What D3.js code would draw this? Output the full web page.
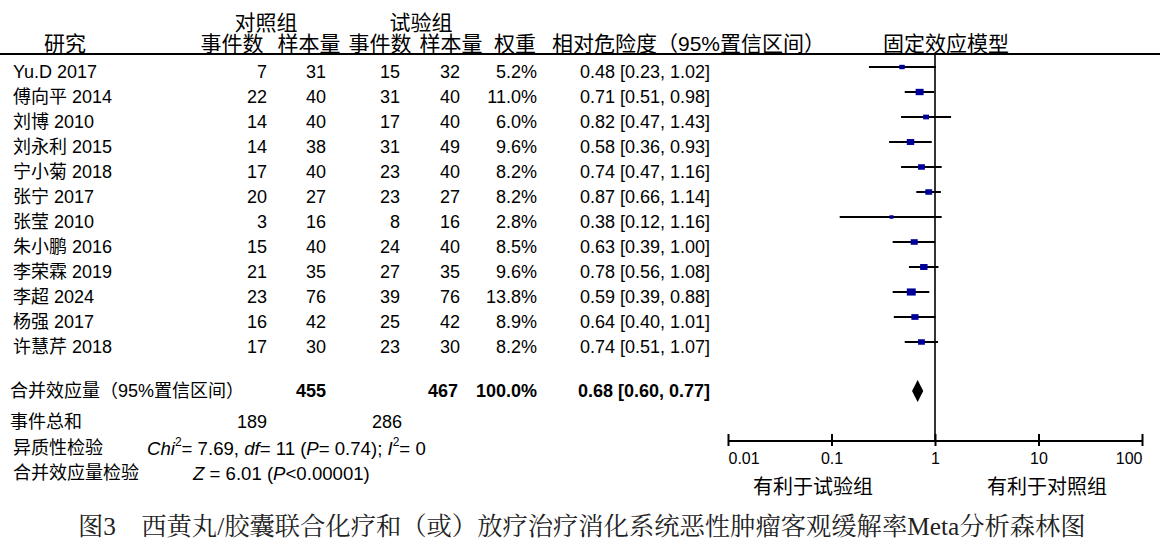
<!DOCTYPE html>
<html><head><meta charset="utf-8">
<script src="https://cdn.jsdelivr.net/npm/d3@7"></script>
<style>
html,body{margin:0;padding:0;background:#fff;}
svg{display:block;}
text{font-family:"Liberation Sans","Noto Sans CJK SC",sans-serif;fill:#000;}
</style></head>
<body>
<svg id="c" width="1162" height="548"></svg>
<script>
const studies = ["Yu.D 2017","傅向平 2014","刘博 2010","刘永利 2015","宁小菊 2018","张宁 2017","张莹 2010","朱小鹏 2016","李荣霖 2019","李超 2024","杨强 2017","许慧芹 2018"];
const ctrlEvents = [7,22,14,14,17,20,3,15,21,23,16,17];
const ctrlTotal  = [31,40,40,38,40,27,16,40,35,76,42,30];
const expEvents  = [15,31,17,31,23,23,8,24,27,39,25,23];
const expTotal   = [32,40,40,49,40,27,16,40,35,76,42,30];
const weights    = [5.2,11.0,6.0,9.6,8.2,8.2,2.8,8.5,9.6,13.8,8.9,8.2];
const rr         = [0.48,0.71,0.82,0.58,0.74,0.87,0.38,0.63,0.78,0.59,0.64,0.74];
const rrLo       = [0.23,0.51,0.47,0.36,0.47,0.66,0.12,0.39,0.56,0.39,0.40,0.51];
const rrHi       = [1.02,0.98,1.43,0.93,1.16,1.14,1.16,1.00,1.08,0.88,1.01,1.07];
const pooled     = {rr:0.68, lo:0.60, hi:0.77, ctrlTotal:455, expTotal:467, weight:"100.0%", ctrlEvents:189, expEvents:286};
const axisTicks  = [0.01,0.1,1,10,100];
const axisTickLabels = ["0.01","0.1","1","10","100"];

const svg = d3.select("#c");
const fmt2 = d3.format(".2f");
const x = d3.scaleLog().domain([0.01,100]).range([728,1142]);
const y = d3.scaleLinear().domain([0, studies.length-1]).range([72, 347]);
const markOff = -5;

// Headers
const hdr = svg.append("g").attr("font-size",21);
function ht(tx,ty,s,anchor){hdr.append("text").attr("x",tx).attr("y",ty).attr("text-anchor",anchor||"middle").attr("dominant-baseline","central").text(s);}
ht(266,22,"对照组"); ht(421,22,"试验组");
ht(65,43,"研究"); ht(232,43,"事件数"); ht(309,43,"样本量"); ht(380,43,"事件数"); ht(451,43,"样本量");
ht(515,43,"权重"); ht(552,43,"相对危险度（95%置信区间）","start"); ht(946,43,"固定效应模型");

svg.append("line").attr("x1",0).attr("x2",1160).attr("y1",54).attr("y2",54).attr("stroke","#000").attr("stroke-width",1.8);

// Rows
const rows = svg.append("g").attr("font-size",18);
studies.forEach((s,i)=>{
  const yy = y(i);
  const t=(tx,str,anchor)=>rows.append("text").attr("x",tx).attr("y",yy).attr("dominant-baseline","central").attr("text-anchor",anchor).text(str);
  t(13,s,"start");
  t(267,ctrlEvents[i],"end");
  t(326,ctrlTotal[i],"end");
  t(400,expEvents[i],"end");
  t(460,expTotal[i],"end");
  t(537,weights[i].toFixed(1)+"%","end");
  t(710,`${fmt2(rr[i])} [${fmt2(rrLo[i])}, ${fmt2(rrHi[i])}]`,"end");
});

// Reference line
svg.append("line").attr("x1",x(1)).attr("x2",x(1)).attr("y1",54).attr("y2",441).attr("stroke","#000").attr("stroke-width",1.6);

// CI whiskers and squares
const marks = svg.append("g");
studies.forEach((s,i)=>{
  const yy = y(i)+markOff;
  marks.append("line").attr("x1",x(rrLo[i])).attr("x2",x(rrHi[i])).attr("y1",yy).attr("y2",yy).attr("stroke","#000").attr("stroke-width",2);
  const w = 2.4*Math.sqrt(weights[i]);
  const h = Math.max(3.5, w*0.8);
  marks.append("rect").attr("x",x(rr[i])-w/2).attr("y",yy-h/2).attr("width",w).attr("height",h).attr("fill","#00009a");
});

// Summary row
const sy = 391;
const sum = svg.append("g").attr("font-size",18);
sum.append("text").attr("x",10).attr("y",sy).attr("dominant-baseline","central").text("合并效应量（95%置信区间）");
const bt=(tx,str)=>sum.append("text").attr("x",tx).attr("y",sy).attr("dominant-baseline","central").attr("text-anchor","end").attr("font-weight","bold").text(str);
bt(326,pooled.ctrlTotal); bt(458,pooled.expTotal); bt(537,pooled.weight);
bt(710,`${fmt2(pooled.rr)} [${fmt2(pooled.lo)}, ${fmt2(pooled.hi)}]`);
svg.append("path").attr("d",`M${x(pooled.lo)},${sy} L${x(pooled.rr)},${sy-11} L${x(pooled.hi)},${sy} L${x(pooled.rr)},${sy+11} Z`).attr("fill","#000");

// Totals / tests
const ft = svg.append("g").attr("font-size",18);
ft.append("text").attr("x",10).attr("y",422).attr("dominant-baseline","central").text("事件总和");
ft.append("text").attr("x",267).attr("y",422).attr("dominant-baseline","central").attr("text-anchor","end").text(pooled.ctrlEvents);
ft.append("text").attr("x",402).attr("y",422).attr("dominant-baseline","central").attr("text-anchor","end").text(pooled.expEvents);
ft.append("text").attr("x",13).attr("y",448).attr("dominant-baseline","central").text("异质性检验");
const het = ft.append("text").attr("x",147).attr("y",448).attr("dominant-baseline","central").attr("font-size",18.6);
het.append("tspan").attr("font-style","italic").text("Chi");
het.append("tspan").attr("font-size",12).attr("dy",-6).text("2");
het.append("tspan").attr("dy",6).text("= 7.69, ");
het.append("tspan").attr("font-style","italic").text("df");
het.append("tspan").text("= 11 (");
het.append("tspan").attr("font-style","italic").text("P");
het.append("tspan").text("= 0.74); ");
het.append("tspan").attr("font-style","italic").text("I");
het.append("tspan").attr("font-size",12).attr("dy",-6).text("2");
het.append("tspan").attr("dy",6).text("= 0");
ft.append("text").attr("x",13).attr("y",473).attr("dominant-baseline","central").text("合并效应量检验");
const zt = ft.append("text").attr("x",193).attr("y",473).attr("dominant-baseline","central").attr("font-size",18.6);
zt.append("tspan").attr("font-style","italic").text("Z");
zt.append("tspan").text(" = 6.01 (");
zt.append("tspan").attr("font-style","italic").text("P");
zt.append("tspan").text("<0.00001)");

// Axis
const axis = d3.axisBottom(x).tickValues(axisTicks).tickFormat((d,i)=>axisTickLabels[i]).tickSizeOuter(0);
const ag = svg.append("g").attr("transform","translate(0,441)").call(axis);
ag.select(".domain").attr("stroke","#000").attr("stroke-width",2).attr("d",`M${x(0.01)},0H${x(100)}`);
ag.selectAll(".tick line").attr("y1",-7).attr("y2",5).attr("stroke","#000").attr("stroke-width",2);
ag.selectAll(".tick text").attr("font-size",16).attr("font-family","Liberation Sans, sans-serif").attr("fill","#000")
  .attr("y",18).attr("dy","0.32em")
  .attr("text-anchor",(d,i)=> i===0?"start":(i===axisTicks.length-1?"end":"middle"));
svg.append("text").attr("x",813).attr("y",487).attr("font-size",20).attr("text-anchor","middle").attr("dominant-baseline","central").text("有利于试验组");
svg.append("text").attr("x",1047).attr("y",487).attr("font-size",20).attr("text-anchor","middle").attr("dominant-baseline","central").text("有利于对照组");

// Caption
svg.append("text").attr("x",78).attr("y",526).attr("font-size",25.3).attr("dominant-baseline","central")
  .style("font-family","'Liberation Serif','Noto Serif CJK SC','Noto Sans CJK SC',serif").style("fill","#222")
  .text("图3　西黄丸/胶囊联合化疗和（或）放疗治疗消化系统恶性肿瘤客观缓解率Meta分析森林图");
</script>
</body></html>
